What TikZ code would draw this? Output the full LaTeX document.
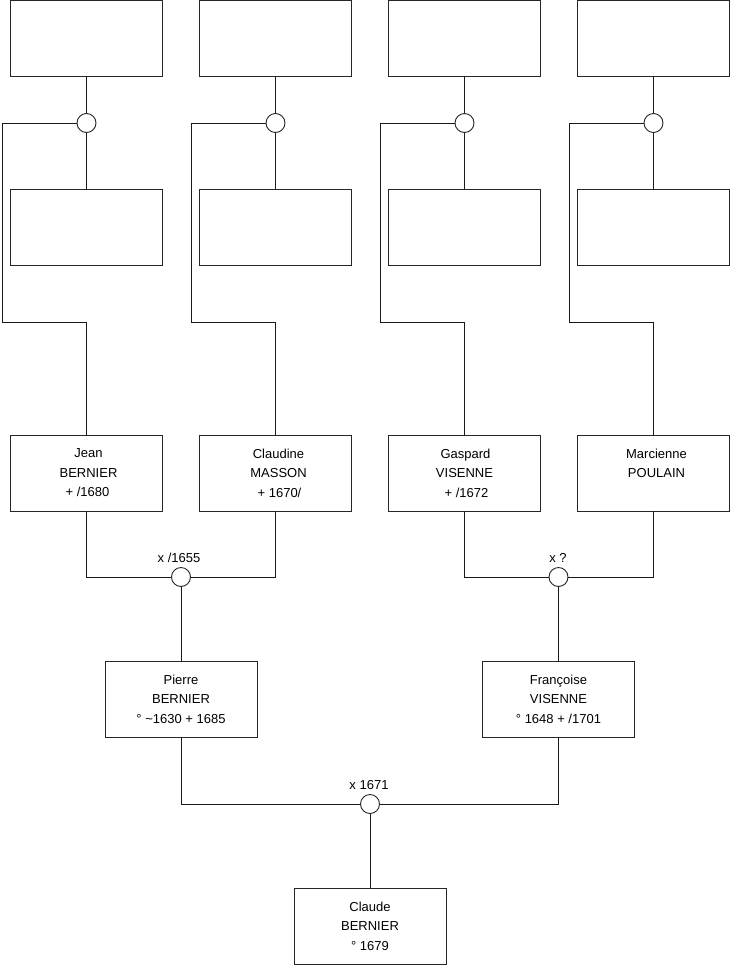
\documentclass[tikz,border=0pt]{standalone}
\usepackage{fontspec}
\setmainfont{Liberation Sans}
\begin{document}
\begin{tikzpicture}[x=1pt,y=-1pt,line width=0.9pt,
  person/.style={draw=black!85, minimum width=152pt, minimum height=76pt, inner sep=0pt, align=center, font=\fontsize{13}{19.5}\selectfont},
  union/.style={circle, draw=black!85, fill=white, minimum size=19pt, inner sep=0pt},
  ulabel/.style={font=\fontsize{13}{15}\selectfont, inner sep=0pt},
  link/.style={draw=black!90}]
\useasboundingbox (0,0) rectangle (740,975);
% top rows
\node[person] (t1) at (86.5,38.5) {};
\node[person] (t2) at (275.5,38.5) {};
\node[person] (t3) at (464.5,38.5) {};
\node[person] (t4) at (653.5,38.5) {};
\node[person] (m1) at (86.5,227) {};
\node[person] (m2) at (275.5,227) {};
\node[person] (m3) at (464.5,227) {};
\node[person] (m4) at (653.5,227) {};
% grand-parents
\node[person] (j1) at (86.5,473) {\hspace*{4pt}Jean\\\hspace*{4pt}BERNIER\\\hspace*{2pt}+ /1680};
\node[person] (j2) at (275.5,473) {\hspace*{6pt}Claudine\\\hspace*{6pt}MASSON\\\hspace*{8pt}+ 1670/};
\node[person] (j3) at (464.5,473) {\hspace*{2pt}Gaspard\\VISENNE\\\hspace*{4pt}+ /1672};
\node[person] (j4) at (653.5,473) {\hspace*{6pt}Marcienne\\\hspace*{6pt}POULAIN\\\phantom{+ /1672}};
% parents
\node[person] (p1) at (181,699) {Pierre\\BERNIER\\° \textasciitilde1630 + 1685};
\node[person] (p2) at (558.5,699) {Françoise\\VISENNE\\° 1648 + /1701};
% child
\node[person] (cl) at (370,926) {Claude\\BERNIER\\° 1679};
% unions
\node[union] (c1) at (86.5,123) {};
\node[union] (c2) at (275.5,123) {};
\node[union] (c3) at (464.5,123) {};
\node[union] (c4) at (653.5,123) {};
\node[union] (u1) at (181,577) {};
\node[union] (u2) at (558.5,577) {};
\node[union] (u3) at (370,804) {};
% union labels
\node[ulabel] (l1) at (179,558) {x /1655};
\node[ulabel] (l2) at (558,558) {x ?};
\node[ulabel] (l3) at (369,785) {x 1671};
% corner coordinates
\coordinate (b1) at (2,322);
\coordinate (b2) at (191,322);
\coordinate (b3) at (380,322);
\coordinate (b4) at (569,322);
% connectors top
\foreach \i in {1,2,3,4}{
  \draw[link] (t\i) -- (c\i);
  \draw[link] (c\i) -- (m\i);
  \draw[link] (c\i.west) -| (b\i) -| (j\i.north);
}
% grandparents unions
\draw[link] (j1.south) |- (u1.west);
\draw[link] (j2.south) |- (u1.east);
\draw[link] (u1) -- (p1);
\draw[link] (j3.south) |- (u2.west);
\draw[link] (j4.south) |- (u2.east);
\draw[link] (u2) -- (p2);
% parents union
\draw[link] (p1.south) |- (u3.west);
\draw[link] (p2.south) |- (u3.east);
\draw[link] (u3) -- (cl);
\end{tikzpicture}
\end{document}
